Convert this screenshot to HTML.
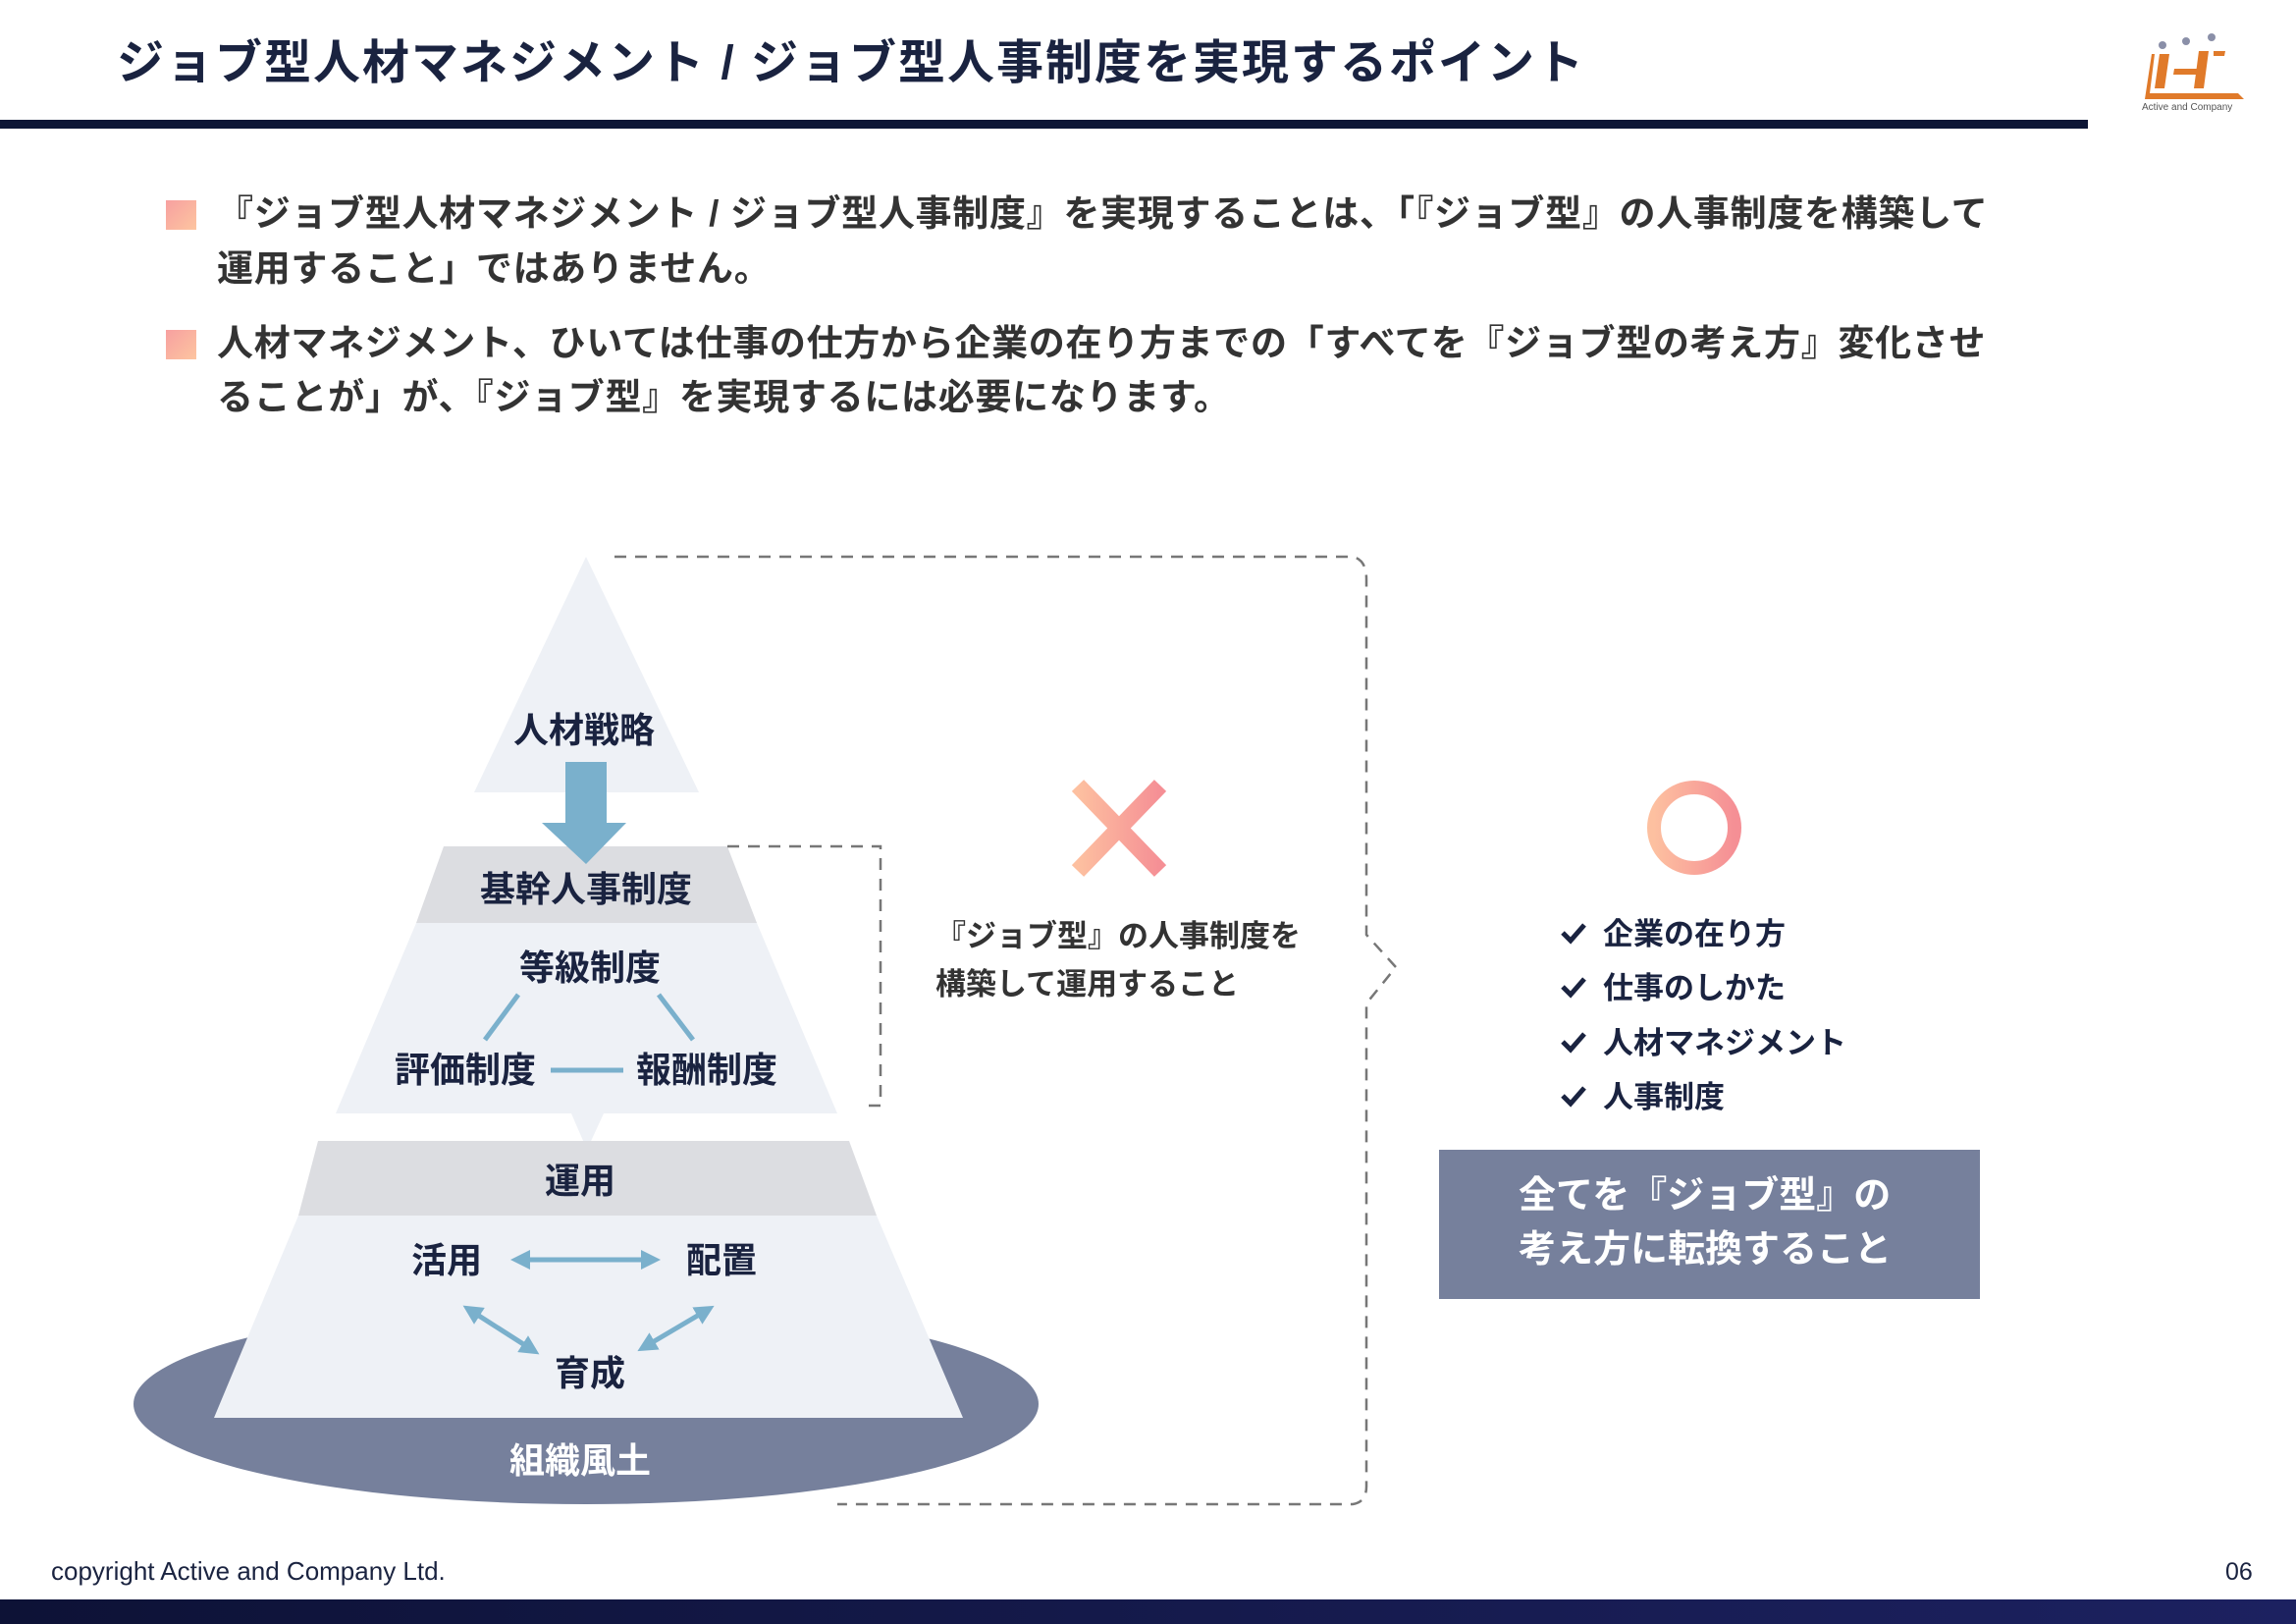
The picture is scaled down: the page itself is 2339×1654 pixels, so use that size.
<!DOCTYPE html>
<html><head><meta charset="utf-8">
<style>
html,body{margin:0;padding:0;background:#fff;}
svg{display:block;}
text{font-family:"Liberation Sans","Noto Sans CJK JP",sans-serif;}
</style></head>
<body>
<svg width="2339" height="1654" viewBox="0 0 2339 1654" xmlns="http://www.w3.org/2000/svg">
<defs>
<linearGradient id="bul" x1="0" y1="0" x2="1" y2="1"><stop offset="0" stop-color="#f7a0a0"/><stop offset="1" stop-color="#fdc5a0"/></linearGradient>
<linearGradient id="xg" x1="0" y1="0" x2="1" y2="0"><stop offset="0" stop-color="#fdc0a0"/><stop offset="1" stop-color="#f58f95"/></linearGradient>
<linearGradient id="bar" x1="0" y1="0" x2="1" y2="0"><stop offset="0" stop-color="#0d1236"/><stop offset="1" stop-color="#1c2160"/></linearGradient>
<marker id="ah" viewBox="0 0 10 10" refX="5" refY="5" markerWidth="4" markerHeight="4" orient="auto-start-reverse"><path d="M0,0 L10,5 L0,10 z" fill="#7ab0cc"/></marker>
</defs>

<!-- Title -->
<text x="119" y="80" font-size="48" font-weight="bold" fill="#1a2340" letter-spacing="2">ジョブ型人材マネジメント / ジョブ型人事制度を実現するポイント</text>
<rect x="0" y="122" width="2127" height="9" fill="#0d1636"/>

<!-- Logo -->
<g>
<circle cx="2203" cy="46" r="4" fill="#8a8fa8"/><circle cx="2227" cy="42" r="4" fill="#8a8fa8"/><circle cx="2253" cy="38" r="4" fill="#8a8fa8"/>
<path d="M2195 55 L2190 95 L2280 95 L2286 101 L2185 101 L2192 55 Z" fill="#e07a2a"/>
<path d="M2200 55 h10 l-5 35 h-10 z M2215 70 h28 l-1 6 h-28 z M2240 52 h10 l-5 38 h-10 z M2255 52 h12 l-1 5 h-11 z" fill="#e07a2a"/>
<text x="2182" y="112" font-size="10" fill="#555" font-family="Liberation Serif,serif">Active and Company</text>
</g>

<!-- Bullets -->
<rect x="169" y="204" width="31" height="30" fill="url(#bul)"/>
<text x="221" y="230" font-size="37" font-weight="bold" fill="#333" letter-spacing="0.7">『ジョブ型人材マネジメント / ジョブ型人事制度』を実現することは、「『ジョブ型』の人事制度を構築して</text>
<text x="221" y="286" font-size="37" font-weight="bold" fill="#333" letter-spacing="0.7">運用すること」ではありません。</text>
<rect x="169" y="336" width="31" height="30" fill="url(#bul)"/>
<text x="221" y="362" font-size="37" font-weight="bold" fill="#333" letter-spacing="0.7">人材マネジメント、ひいては仕事の仕方から企業の在り方までの「すべてを『ジョブ型の考え方』変化させ</text>
<text x="221" y="417" font-size="37" font-weight="bold" fill="#333" letter-spacing="0.7">ることが」が、『ジョブ型』を実現するには必要になります。</text>

<!-- Ellipse base -->
<ellipse cx="597" cy="1430" rx="461" ry="102" fill="#76809c"/>

<!-- Pyramid -->
<polygon points="597,567 712,807 483,807" fill="#eef1f6"/>
<polygon points="452,862 741,862 771,940 424,940" fill="#dcdde1"/>
<polygon points="424,940 771,940 853,1134 342,1134" fill="#eef1f6"/>
<polygon points="582,1134 615,1134 598,1171" fill="#eef1f6"/>
<polygon points="324,1162 865,1162 893,1238 304,1238" fill="#dcdde1"/>
<polygon points="304,1238 893,1238 981,1444 218,1444" fill="#eef1f6"/>

<!-- Arrow down -->
<polygon points="576,776 618,776 618,838 638,838 597,880 552,838 576,838" fill="#7ab0cc"/>

<!-- Pyramid labels -->
<g font-size="36" font-weight="bold" fill="#1a2340" text-anchor="middle">
<text x="595" y="756">人材戦略</text>
<text x="597" y="918">基幹人事制度</text>
<text x="601" y="998">等級制度</text>
<text x="474" y="1102">評価制度</text>
<text x="720" y="1102">報酬制度</text>
<text x="591" y="1215">運用</text>
<text x="455" y="1296">活用</text>
<text x="735" y="1296">配置</text>
<text x="601" y="1411">育成</text>
<text x="591" y="1500" fill="#fff">組織風土</text>
</g>

<!-- connectors -->
<g stroke="#7ab0cc" stroke-width="5" fill="none">
<line x1="528" y1="1013" x2="494" y2="1059"/>
<line x1="671" y1="1013" x2="706" y2="1059"/>
<line x1="561" y1="1090" x2="635" y2="1090"/>
<line x1="530" y1="1283" x2="663" y2="1283" marker-start="url(#ah)" marker-end="url(#ah)"/>
<line x1="480" y1="1335" x2="541" y2="1374" marker-start="url(#ah)" marker-end="url(#ah)"/>
<line x1="719" y1="1335" x2="658" y2="1371" marker-start="url(#ah)" marker-end="url(#ah)"/>
</g>

<!-- dashed brackets -->
<g stroke="#777" stroke-width="2.5" fill="none" stroke-dasharray="12,9">
<path d="M741 862 H897 V1126 H880"/>
<path d="M626 567 H1378 Q1392 570 1392 590 V952 L1422 985 L1392 1022 V1514 Q1392 1530 1378 1532 H853"/>
</g>

<!-- X -->
<g stroke="url(#xg)" stroke-width="17" stroke-linecap="butt">
<line x1="1098" y1="800" x2="1182" y2="887"/>
<line x1="1182" y1="800" x2="1098" y2="887"/>
</g>
<text x="953" y="964" font-size="31" font-weight="bold" fill="#333">『ジョブ型』の人事制度を</text>
<text x="953" y="1013" font-size="31" font-weight="bold" fill="#333">構築して運用すること</text>

<!-- O -->
<circle cx="1726" cy="843" r="41" fill="none" stroke="url(#xg)" stroke-width="14"/>

<!-- checklist -->
<g font-size="31" font-weight="bold" fill="#1a2340">
<g stroke="#1a2340" stroke-width="5" fill="none">
<path d="M1592 950 l8 8 l14 -16"/>
<path d="M1592 1005 l8 8 l14 -16"/>
<path d="M1592 1061 l8 8 l14 -16"/>
<path d="M1592 1116 l8 8 l14 -16"/>
</g>
<text x="1633" y="962">企業の在り方</text>
<text x="1633" y="1017">仕事のしかた</text>
<text x="1633" y="1073">人材マネジメント</text>
<text x="1633" y="1128">人事制度</text>
</g>

<rect x="1466" y="1171" width="551" height="152" fill="#76809c"/>
<text x="1547" y="1230" font-size="38" font-weight="bold" fill="#fff">全てを『ジョブ型』の</text>
<text x="1547" y="1285" font-size="38" font-weight="bold" fill="#fff">考え方に転換すること</text>

<!-- footer -->
<text x="52" y="1609" font-size="26" fill="#1a2340">copyright Active and Company Ltd.</text>
<text x="2267" y="1609" font-size="25" fill="#1a2340">06</text>
<rect x="0" y="1629" width="2339" height="25" fill="url(#bar)"/>
</svg>
</body></html>
